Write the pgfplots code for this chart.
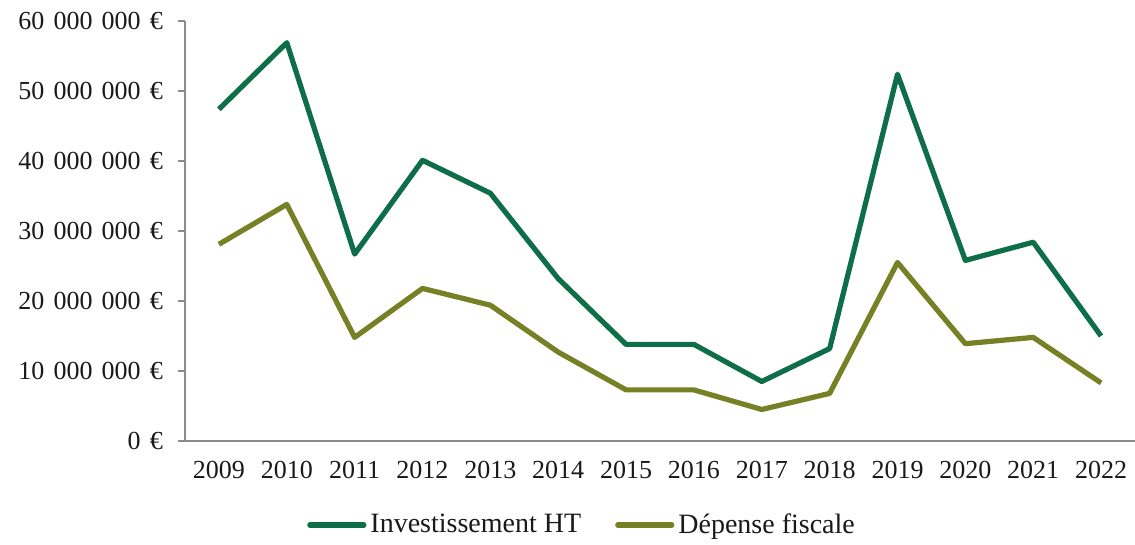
\documentclass[border=0pt]{standalone}
\usepackage{pgfplots}
\pgfplotsset{compat=1.18}
\usepackage{fontspec}
\setmainfont{Liberation Serif}
\definecolor{invgreen}{RGB}{14,110,74}
\definecolor{depolive}{RGB}{118,128,36}
\definecolor{axgray}{RGB}{140,140,140}
\newcommand{\gs}{\hspace{4.6pt}}
\begin{document}
\begin{tikzpicture}
\useasboundingbox (-92.5pt,-52pt) rectangle (475pt,220.5pt);
\begin{axis}[
  at={(0,0)}, anchor=south west,
  scale only axis,
  width=475pt, height=210pt,
  xmin=-0.5, xmax=13.5,
  ymin=0, ymax=60000000,
  scaled y ticks=false,
  axis x line*=bottom, axis y line*=left,
  axis line style={axgray, line width=0.8pt},
  xtick={0,...,13},
  xticklabels={2009,2010,2011,2012,2013,2014,2015,2016,2017,2018,2019,2020,2021,2022},
  minor xtick={-0.5,0.5,...,13.5},
  xtick style={draw=none},
  minor tick style={axgray, line width=0.8pt},
  minor tick length=3.5pt,
  ytick={0,10000000,20000000,30000000,40000000,50000000,60000000},
  yticklabels={0\gs€,10\gs000\gs000\gs€,20\gs000\gs000\gs€,30\gs000\gs000\gs€,40\gs000\gs000\gs€,50\gs000\gs000\gs€,60\gs000\gs000\gs€},
  ytick style={axgray, line width=0.8pt},
  major tick length=3.5pt,
  tick align=outside,
  tick label style={font=\fontsize{13}{15}\selectfont, text=black!90},
  xticklabel style={yshift=-3pt},
  yticklabel style={xshift=-4pt},
  legend columns=2,
  legend style={draw=none, at={(0.419,-0.2)}, anchor=center,
    font=\fontsize{14}{16}\selectfont, text=black!90,
    /tikz/every even column/.append style={column sep=15pt}},
  legend image code/.code={\draw[#1, line cap=round] (0pt,0pt) -- (27pt,0pt);},
  clip=false,
]
\addplot[invgreen, line width=2.6pt, line join=round] coordinates {
(0,47400000) (1,56900000) (2,26700000) (3,40100000) (4,35400000) (5,23200000) (6,13800000)
(7,13800000) (8,8500000) (9,13200000) (10,52400000) (11,25800000) (12,28400000) (13,15000000)};
\addlegendentry{Investissement HT}
\addplot[depolive, line width=2.6pt, line join=round] coordinates {
(0,28100000) (1,33800000) (2,14800000) (3,21800000) (4,19400000) (5,12700000) (6,7300000)
(7,7300000) (8,4500000) (9,6800000) (10,25500000) (11,13900000) (12,14800000) (13,8300000)};
\addlegendentry{Dépense fiscale}
\end{axis}
\end{tikzpicture}
\end{document}
